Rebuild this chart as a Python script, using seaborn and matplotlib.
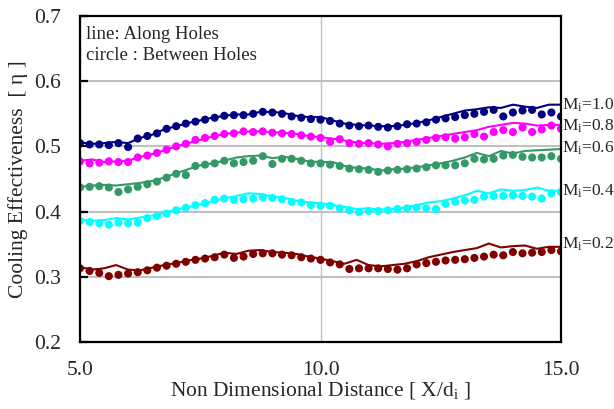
import numpy as np
import pandas as pd
import matplotlib
matplotlib.use("Agg")
import matplotlib.pyplot as plt
import seaborn as sns

# ---------------- data ----------------
x_circle = [round(5.0 + 0.2 * i, 2) for i in range(51)]
x_line = [round(5.0 + 0.25 * i, 2) for i in range(41)]

labels = ["Mi=1.0", "Mi=0.8", "Mi=0.6", "Mi=0.4", "Mi=0.2"]
colors = ["#000080", "#FF00FF", "#339966", "#00FFFF", "#800000"]

circ_10 = [0.505, 0.503, 0.503, 0.502, 0.505, 0.499, 0.512, 0.516, 0.520, 0.527,
           0.531, 0.535, 0.538, 0.541, 0.544, 0.547, 0.548, 0.548, 0.550, 0.553,
           0.552, 0.550, 0.546, 0.544, 0.542, 0.541, 0.539, 0.535, 0.532, 0.531,
           0.532, 0.530, 0.529, 0.531, 0.534, 0.535, 0.537, 0.541, 0.543, 0.545,
           0.548, 0.550, 0.553, 0.556, 0.546, 0.552, 0.555, 0.556, 0.549, 0.552, 0.546]
line_10 = [0.506, 0.504, 0.505, 0.507, 0.505, 0.513, 0.518, 0.526, 0.531, 0.536,
           0.540, 0.544, 0.547, 0.549, 0.549, 0.553, 0.553, 0.551, 0.547, 0.545,
           0.545, 0.540, 0.535, 0.533, 0.532, 0.531, 0.531, 0.533, 0.536, 0.540,
           0.545, 0.550, 0.555, 0.557, 0.560, 0.559, 0.564, 0.561, 0.559, 0.564, 0.564]

circ_08 = [0.477, 0.474, 0.475, 0.477, 0.476, 0.476, 0.483, 0.486, 0.490, 0.495,
           0.500, 0.504, 0.510, 0.513, 0.516, 0.519, 0.520, 0.523, 0.522, 0.523,
           0.521, 0.520, 0.519, 0.517, 0.515, 0.513, 0.507, 0.511, 0.505, 0.504,
           0.505, 0.503, 0.500, 0.504, 0.505, 0.507, 0.510, 0.513, 0.514, 0.512,
           0.514, 0.519, 0.515, 0.522, 0.525, 0.522, 0.529, 0.522, 0.526, 0.532, 0.527]
line_08 = [0.478, 0.480, 0.476, 0.477, 0.478, 0.484, 0.488, 0.494, 0.500, 0.505,
           0.510, 0.515, 0.519, 0.521, 0.523, 0.523, 0.522, 0.521, 0.519, 0.516,
           0.514, 0.512, 0.509, 0.506, 0.505, 0.504, 0.505, 0.507, 0.510, 0.513,
           0.516, 0.519, 0.522, 0.525, 0.530, 0.533, 0.536, 0.535, 0.532, 0.533, 0.533]

circ_06 = [0.437, 0.438, 0.439, 0.437, 0.430, 0.434, 0.438, 0.442, 0.446, 0.452,
           0.458, 0.456, 0.470, 0.472, 0.474, 0.478, 0.474, 0.476, 0.478, 0.485,
           0.473, 0.481, 0.481, 0.478, 0.474, 0.474, 0.472, 0.470, 0.466, 0.465,
           0.464, 0.461, 0.463, 0.464, 0.465, 0.466, 0.468, 0.471, 0.471, 0.471,
           0.474, 0.481, 0.480, 0.481, 0.486, 0.487, 0.484, 0.483, 0.483, 0.485, 0.481]
line_06 = [0.438, 0.440, 0.441, 0.440, 0.442, 0.444, 0.447, 0.452, 0.459, 0.465,
           0.471, 0.474, 0.478, 0.483, 0.485, 0.486, 0.482, 0.484, 0.481, 0.477,
           0.476, 0.476, 0.470, 0.467, 0.466, 0.463, 0.465, 0.466, 0.468, 0.471,
           0.474, 0.478, 0.483, 0.490, 0.485, 0.493, 0.489, 0.493, 0.494, 0.495, 0.496]

circ_04 = [0.386, 0.384, 0.382, 0.380, 0.383, 0.382, 0.383, 0.390, 0.393, 0.397,
           0.402, 0.406, 0.410, 0.413, 0.418, 0.420, 0.418, 0.419, 0.420, 0.422,
           0.421, 0.419, 0.415, 0.414, 0.410, 0.409, 0.409, 0.405, 0.402, 0.399,
           0.401, 0.401, 0.402, 0.404, 0.405, 0.406, 0.405, 0.404, 0.412, 0.415,
           0.417, 0.418, 0.423, 0.424, 0.424, 0.425, 0.424, 0.423, 0.420, 0.428, 0.430]
line_04 = [0.388, 0.386, 0.387, 0.390, 0.388, 0.391, 0.394, 0.398, 0.403, 0.407,
           0.411, 0.416, 0.420, 0.424, 0.428, 0.427, 0.423, 0.421, 0.417, 0.414,
           0.413, 0.410, 0.407, 0.404, 0.405, 0.403, 0.404, 0.406, 0.410, 0.414,
           0.416, 0.420, 0.425, 0.432, 0.428, 0.434, 0.432, 0.433, 0.437, 0.432, 0.432]

circ_02 = [0.313, 0.309, 0.306, 0.301, 0.303, 0.305, 0.307, 0.310, 0.314, 0.317,
           0.320, 0.323, 0.326, 0.328, 0.330, 0.334, 0.329, 0.331, 0.335, 0.336,
           0.336, 0.334, 0.333, 0.330, 0.328, 0.326, 0.322, 0.319, 0.312, 0.313,
           0.313, 0.313, 0.312, 0.311, 0.313, 0.319, 0.321, 0.323, 0.325, 0.326,
           0.327, 0.329, 0.331, 0.334, 0.333, 0.338, 0.336, 0.337, 0.338, 0.341, 0.339]
line_02 = [0.315, 0.311, 0.313, 0.318, 0.311, 0.310, 0.314, 0.318, 0.321, 0.325,
           0.328, 0.332, 0.337, 0.335, 0.340, 0.341, 0.338, 0.337, 0.335, 0.331,
           0.328, 0.324, 0.320, 0.326, 0.318, 0.316, 0.318, 0.320, 0.324, 0.330,
           0.334, 0.338, 0.341, 0.344, 0.351, 0.345, 0.347, 0.348, 0.343, 0.346, 0.346]

circles = [circ_10, circ_08, circ_06, circ_04, circ_02]
lines = [line_10, line_08, line_06, line_04, line_02]
label_y = [0.563, 0.531, 0.497, 0.431, 0.350]
label_txt = ["1.0", "0.8", "0.6", "0.4", "0.2"]

y_ticks = [0.2, 0.3, 0.4, 0.5, 0.6, 0.7]
x_ticks = [5.0, 10.0, 15.0]

# ---------------- tables ----------------
df_c = pd.concat([pd.DataFrame({"x": x_circle, "eta": v, "M": lab})
                  for v, lab in zip(circles, labels)], ignore_index=True)
df_l = pd.concat([pd.DataFrame({"x": x_line, "eta": v, "M": lab})
                  for v, lab in zip(lines, labels)], ignore_index=True)
palette = dict(zip(labels, colors))

# ---------------- style ----------------
sns.set_theme(style="white")
plt.rcParams["font.family"] = ["Liberation Serif", "DejaVu Serif"]
plt.rcParams["mathtext.fontset"] = "custom"
plt.rcParams["mathtext.rm"] = "Liberation Serif"
plt.rcParams["mathtext.it"] = "Liberation Serif:italic"

fig = plt.figure(figsize=(6.14, 4.09), dpi=100)
ax = fig.add_axes([80 / 614, 1 - 342 / 409, (561 - 80) / 614, (342 - 16) / 409])

sns.lineplot(data=df_l, x="x", y="eta", hue="M", palette=palette, ax=ax,
             linewidth=1.5, legend=False, zorder=3)
sns.scatterplot(data=df_c, x="x", y="eta", hue="M", palette=palette, ax=ax,
                s=34, linewidth=0, legend=False, zorder=4)

ax.set_xlim(5, 15)
ax.set_ylim(0.2, 0.7)
ax.set_xticks(x_ticks)
ax.set_xticklabels([f"{t:.1f}" for t in x_ticks])
ax.set_yticks(y_ticks)
ax.set_yticklabels([f"{t:.1f}" for t in y_ticks])

ax.yaxis.grid(True, color="#C0C0C0", linewidth=1.5)
ax.xaxis.grid(True, color="#C0C0C0", linewidth=1.0)
ax.set_axisbelow(True)

for s in ax.spines.values():
    s.set_color("black")
    s.set_linewidth(1.6)
    s.set_zorder(5)

ax.tick_params(axis="y", direction="in", length=6, width=1.6, color="black",
               labelsize=15.5, pad=14, left=True)
ax.tick_params(axis="x", direction="in", length=0, labelsize=15.5, pad=14)

ax.set_xlabel("Non Dimensional Distance [ X/d$_\\mathregular{i}$ ]", fontsize=15.5, labelpad=0)
ax.set_ylabel("Cooling Effectiveness  [ \u03b7 ]", fontsize=15.5, labelpad=4)

ax.text(0.012, 0.97, "line: Along Holes\ncircle : Between Holes", transform=ax.transAxes,
        fontsize=13.5, va="top", ha="left", linespacing=1.35)

for yv, t in zip(label_y, label_txt):
    ax.text(15.02, yv, "M$_\\mathregular{i}$=" + t, fontsize=12.5, va="center", ha="left",
            clip_on=False)

fig.savefig("out.png", dpi=100)
